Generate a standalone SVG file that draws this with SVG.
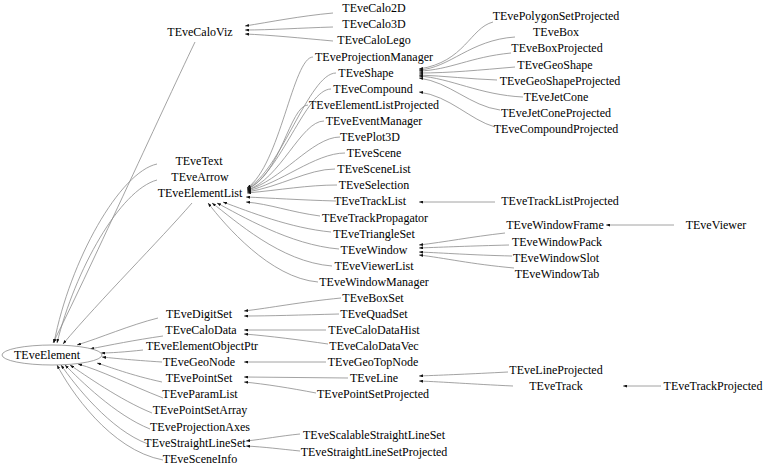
<svg xmlns="http://www.w3.org/2000/svg" width="768" height="469" viewBox="0 0 768 469">
<style>
text{font-family:"Liberation Serif","Times New Roman",serif;font-size:12px;fill:#000;text-anchor:middle}
.e{fill:none;stroke:#8c8c8c;stroke-width:0.8;marker-end:url(#ah)}
.n ellipse{fill:#fff;stroke:#8c8c8c;stroke-width:0.8}
</style>
<defs>
<marker id="ah" markerUnits="userSpaceOnUse" markerWidth="4" markerHeight="3" viewBox="0 0 4 3" refX="4" refY="1.5" orient="auto">
<path d="M0,0 L4,1.5 L0,3 z" fill="#111"/>
</marker>
</defs>
<rect width="768" height="469" fill="#fff"/>
<g id="connectors">
<!-- TEveCaloViz children -->
<path class="e" d="M333,13 C300,16 270,22 245,26"/>
<path class="e" d="M333,27 C300,28 270,30 245,30"/>
<path class="e" d="M333,41 C300,38 270,35 245,34"/>
<!-- to TEveElement from top -->
<path class="e" d="M195,42 C160,115 85,280 53,343"/>
<path class="e" d="M157,164 C120,172 70,260 54,343"/>
<path class="e" d="M157,180 C120,190 75,270 57,343"/>
<path class="e" d="M192,203 C160,240 100,300 63,344"/>
<!-- TEveElementList children (upper) -->
<path class="e" d="M313,57 C293,57 280,166 247,188"/>
<path class="e" d="M336,73 C309,73 280,173 247,188"/>
<path class="e" d="M331,89 C306,89 280,175 247,189"/>
<path class="e" d="M308,105 C290,105 280,177 247,189"/>
<path class="e" d="M324,121 C301,121 280,180 247,190"/>
<path class="e" d="M340,137 C312,137 280,182 247,190"/>
<path class="e" d="M345,153 C315,153 280,184 247,191"/>
<path class="e" d="M335,169 C308,169 280,187 247,192"/>
<path class="e" d="M337,185 C308,185 280,190 247,193"/>
<path class="e" d="M336,201 C300,200 270,198 246,197"/>
<path class="e" d="M320,216 C290,212 270,204 246,202"/>
<path class="e" d="M331,232 C290,228 250,212 223,202"/>
<path class="e" d="M339,249 C290,245 240,215 217,203"/>
<path class="e" d="M332,266 C280,262 235,220 212,203"/>
<path class="e" d="M318,282 C270,278 225,225 208,203"/>
<!-- TEveShape children -->
<path class="e" d="M493,22 C470,28 465,62 419,69"/>
<path class="e" d="M515,37 C470,40 450,68 419,70"/>
<path class="e" d="M511,53 C470,57 450,70 419,71"/>
<path class="e" d="M515,67 C480,70 450,73 419,73"/>
<path class="e" d="M497,80 C470,79 445,76 419,75"/>
<path class="e" d="M523,97 C480,95 450,78 419,76"/>
<path class="e" d="M500,110 C470,106 450,82 419,78"/>
<path class="e" d="M495,127 C470,120 450,96 419,92"/>
<!-- TEveTrackList child -->
<path class="e" d="M495,202 L419,202"/>
<!-- TEveWindow children -->
<path class="e" d="M505,233 C470,237 445,242 419,245"/>
<path class="e" d="M509,245 C470,246 445,247 419,248"/>
<path class="e" d="M512,256 C470,255 445,253 419,252"/>
<path class="e" d="M514,268 C470,264 445,258 419,255"/>
<path class="e" d="M674,225 L606,225"/>
<!-- TEveElement children (right / bottom) -->
<path class="e" d="M158,318 C130,325 100,338 77,345"/>
<path class="e" d="M163,336 C135,340 110,345 90,349"/>
<path class="e" d="M143,350 C125,352 110,353 101,353"/>
<path class="e" d="M162,362 C130,360 112,358 102,357"/>
<path class="e" d="M162,382 C130,375 110,367 97,363"/>
<path class="e" d="M163,398 C130,385 100,370 78,364"/>
<path class="e" d="M152,413 C120,400 85,375 70,365"/>
<path class="e" d="M150,429 C115,415 80,380 65,365"/>
<path class="e" d="M148,444 C110,430 75,385 61,365"/>
<path class="e" d="M163,460 C110,450 70,390 57,365"/>
<!-- second level -->
<path class="e" d="M341,298 C300,302 270,308 244,311"/>
<path class="e" d="M339,314 C300,315 270,316 244,316"/>
<path class="e" d="M326,330 L244,330"/>
<path class="e" d="M328,344 C300,340 270,336 244,334"/>
<path class="e" d="M326,362 L244,362"/>
<path class="e" d="M348,378 L244,377"/>
<path class="e" d="M316,393 C290,388 265,384 244,382"/>
<path class="e" d="M300,434 C280,436 265,439 246,441"/>
<path class="e" d="M300,451 C280,449 265,447 246,446"/>
<path class="e" d="M508,372 C470,374 445,375 419,376"/>
<path class="e" d="M513,386 C470,384 445,382 419,381"/>
<path class="e" d="M661,386 L623,386"/>
</g>
<g id="TEveElement" class="n"><ellipse cx="52" cy="355" rx="50" ry="10"/><text x="47" y="359">TEveElement</text></g>
<g id="TEveCaloViz"><text x="200" y="36">TEveCaloViz</text></g>
<g id="TEveText"><text x="199" y="165">TEveText</text></g>
<g id="TEveArrow"><text x="200" y="181">TEveArrow</text></g>
<g id="TEveElementList"><text x="200" y="197">TEveElementList</text></g>
<g id="TEveDigitSet"><text x="199" y="318">TEveDigitSet</text></g>
<g id="TEveCaloData"><text x="201" y="334">TEveCaloData</text></g>
<g id="TEveElementObjectPtr"><text x="202" y="350">TEveElementObjectPtr</text></g>
<g id="TEveGeoNode"><text x="199" y="366">TEveGeoNode</text></g>
<g id="TEvePointSet"><text x="199" y="382">TEvePointSet</text></g>
<g id="TEveParamList"><text x="200" y="398">TEveParamList</text></g>
<g id="TEvePointSetArray"><text x="200" y="414">TEvePointSetArray</text></g>
<g id="TEveProjectionAxes"><text x="200" y="431">TEveProjectionAxes</text></g>
<g id="TEveStraightLineSet"><text x="195" y="447">TEveStraightLineSet</text></g>
<g id="TEveSceneInfo"><text x="200" y="463">TEveSceneInfo</text></g>
<g id="TEveCalo2D"><text x="374" y="12">TEveCalo2D</text></g>
<g id="TEveCalo3D"><text x="374" y="28">TEveCalo3D</text></g>
<g id="TEveCaloLego"><text x="374" y="44">TEveCaloLego</text></g>
<g id="TEveProjectionManager"><text x="374" y="61">TEveProjectionManager</text></g>
<g id="TEveShape"><text x="366" y="77">TEveShape</text></g>
<g id="TEveCompound"><text x="373" y="93">TEveCompound</text></g>
<g id="TEveElementListProjected"><text x="374" y="109">TEveElementListProjected</text></g>
<g id="TEveEventManager"><text x="374" y="125">TEveEventManager</text></g>
<g id="TEvePlot3D"><text x="370" y="141">TEvePlot3D</text></g>
<g id="TEveScene"><text x="374" y="157">TEveScene</text></g>
<g id="TEveSceneList"><text x="374" y="173">TEveSceneList</text></g>
<g id="TEveSelection"><text x="374" y="189">TEveSelection</text></g>
<g id="TEveTrackList"><text x="370" y="205">TEveTrackList</text></g>
<g id="TEveTrackPropagator"><text x="375" y="222">TEveTrackPropagator</text></g>
<g id="TEveTriangleSet"><text x="374" y="238">TEveTriangleSet</text></g>
<g id="TEveWindow"><text x="374" y="254">TEveWindow</text></g>
<g id="TEveViewerList"><text x="374" y="270">TEveViewerList</text></g>
<g id="TEveWindowManager"><text x="374" y="286">TEveWindowManager</text></g>
<g id="TEveBoxSet"><text x="373" y="302">TEveBoxSet</text></g>
<g id="TEveQuadSet"><text x="374" y="318">TEveQuadSet</text></g>
<g id="TEveCaloDataHist"><text x="374" y="334">TEveCaloDataHist</text></g>
<g id="TEveCaloDataVec"><text x="374" y="350">TEveCaloDataVec</text></g>
<g id="TEveGeoTopNode"><text x="373" y="366">TEveGeoTopNode</text></g>
<g id="TEveLine"><text x="374" y="382">TEveLine</text></g>
<g id="TEvePointSetProjected"><text x="373" y="398">TEvePointSetProjected</text></g>
<g id="TEveScalableStraightLineSet"><text x="374" y="439">TEveScalableStraightLineSet</text></g>
<g id="TEveStraightLineSetProjected"><text x="374" y="456">TEveStraightLineSetProjected</text></g>
<g id="TEvePolygonSetProjected"><text x="556" y="20">TEvePolygonSetProjected</text></g>
<g id="TEveBox"><text x="556" y="36">TEveBox</text></g>
<g id="TEveBoxProjected"><text x="557" y="52">TEveBoxProjected</text></g>
<g id="TEveGeoShape"><text x="555" y="69">TEveGeoShape</text></g>
<g id="TEveGeoShapeProjected"><text x="560" y="85">TEveGeoShapeProjected</text></g>
<g id="TEveJetCone"><text x="556" y="101">TEveJetCone</text></g>
<g id="TEveJetConeProjected"><text x="556" y="117">TEveJetConeProjected</text></g>
<g id="TEveCompoundProjected"><text x="556" y="133">TEveCompoundProjected</text></g>
<g id="TEveTrackListProjected"><text x="560" y="205">TEveTrackListProjected</text></g>
<g id="TEveWindowFrame"><text x="555" y="229">TEveWindowFrame</text></g>
<g id="TEveWindowPack"><text x="557" y="246">TEveWindowPack</text></g>
<g id="TEveWindowSlot"><text x="556" y="262">TEveWindowSlot</text></g>
<g id="TEveWindowTab"><text x="557" y="278">TEveWindowTab</text></g>
<g id="TEveLineProjected"><text x="556" y="374">TEveLineProjected</text></g>
<g id="TEveTrack"><text x="556" y="390">TEveTrack</text></g>
<g id="TEveViewer"><text x="716" y="229">TEveViewer</text></g>
<g id="TEveTrackProjected"><text x="713" y="390">TEveTrackProjected</text></g>
</svg>
